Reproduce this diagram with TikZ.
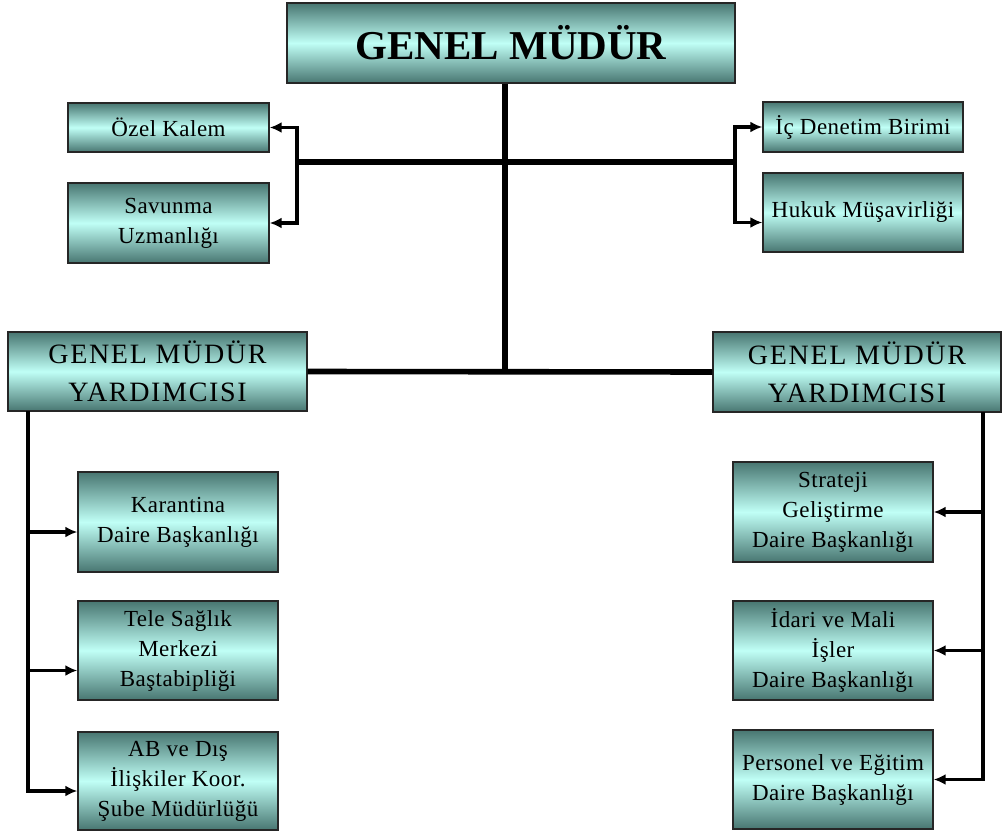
\documentclass[tikz,border=0pt]{standalone}
\usepackage{fontspec}
\setmainfont{Liberation Serif}
\usetikzlibrary{arrows.meta}

\definecolor{boxdark}{RGB}{72,118,113}
\definecolor{boxlight}{RGB}{192,255,246}

\begin{document}
\begin{tikzpicture}[x=1pt,y=-1pt,>={Latex[length=12pt,width=11pt]},line join=miter]

  \tikzstyle{unit}=[rectangle,draw=black!85,line width=1.4pt,top color=boxdark,
                    bottom color=boxdark,middle color=boxlight,align=center,inner sep=0pt,
                    minimum width=200pt,
                    font=\fontsize{23}{30}\selectfont\addfontfeature{LetterSpace=2}]
  \tikzstyle{head}=[unit,font=\fontsize{28}{38}\selectfont\addfontfeature{LetterSpace=6}]
  \tikzstyle{link}=[->,line width=3.2pt]
  \tikzstyle{trunk}=[line width=5.6pt]

  \useasboundingbox (0,0) rectangle (1003,834);

  \node[unit,minimum width=448pt,minimum height=80pt,font=\fontsize{41}{48}\selectfont\bfseries]
        (GM) at (511,43) {GENEL MÜDÜR};

  \node[unit,minimum width=201pt,minimum height=49pt] (OK) at (168.5,127.5) {Özel Kalem};
  \node[unit,minimum width=201pt,minimum height=80pt] (SU) at (168.5,223)   {Savunma \\ Uzmanlığı};
  \node[unit,minimum height=50pt] (ID) at (863,127)   {İç Denetim Birimi};
  \node[unit,minimum height=79pt] (HM) at (863,212.5) {Hukuk Müşavirliği};

  \node[head,minimum width=299pt,minimum height=79pt] (GMYL) at (157.5,371.5) {GENEL MÜDÜR \\ YARDIMCISI};
  \node[head,minimum width=288pt,minimum height=80pt] (GMYR) at (857,372)     {GENEL MÜDÜR \\ YARDIMCISI};

  \node[unit,minimum height=100pt] (KD) at (178,522)   {Karantina \\ Daire Başkanlığı};
  \node[unit,minimum height=99pt]  (TS) at (178,650.5) {Tele Sağlık \\ Merkezi \\ Baştabipliği};
  \node[unit,minimum height=98pt]  (AB) at (178,781)   {AB ve Dış \\ İlişkiler Koor. \\ Şube Müdürlüğü};

  \node[unit,minimum height=100pt] (SG) at (833,512)   {Strateji \\ Geliştirme \\ Daire Başkanlığı};
  \node[unit,minimum height=99pt]  (IM) at (833,650.5) {İdari ve Mali \\ İşler \\ Daire Başkanlığı};
  \node[unit,minimum height=99pt]  (PE) at (833,779.5) {Personel ve Eğitim \\ Daire Başkanlığı};

  \coordinate (TL) at (297,162);
  \coordinate (TM) at (505,162);
  \coordinate (TR) at (735,162);
  \coordinate (LV) at (28,411);
  \coordinate (RV) at (983,412);

  \draw[trunk] (GM.south -| TM) -- (TM |- GMYL.east);
  \draw[trunk] (TL) -- (TR);
  \draw[trunk] (GMYL.east) -- (GMYR.west);

  \draw[link] (TL) |- (OK.east);
  \draw[link] (TL) |- (SU.east);
  \draw[link] (TR) |- (ID.west);
  \draw[link] (TR) |- ([yshift=-10pt]HM.west);

  \draw[link] (LV) |- ([yshift=-10pt]KD.west);
  \draw[link] (LV) |- ([yshift=-20pt]TS.west);
  \draw[link] (LV) |- ([yshift=-10pt]AB.west);

  \draw[link] (RV) |- (SG.east);
  \draw[link] (RV) |- (IM.east);
  \draw[link] (RV) |- (PE.east);
\end{tikzpicture}
\end{document}
